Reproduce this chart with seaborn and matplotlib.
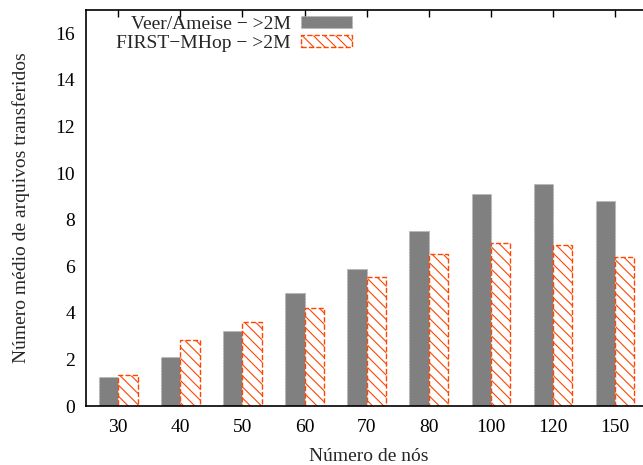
import matplotlib
matplotlib.use("Agg")
import matplotlib.pyplot as plt
import seaborn as sns
import pandas as pd
from matplotlib.patches import Patch

categories = ["30", "40", "50", "60", "70", "80", "100", "120", "150"]
veer = [1.26, 2.12, 3.2, 4.85, 5.86, 7.52, 9.12, 9.53, 8.80]
first = [1.34, 2.82, 3.62, 4.2, 5.52, 6.51, 7.0, 6.91, 6.38]
series_names = ["Veer/Ameise \u2212 >2M", "FIRST\u2212MHop \u2212 >2M"]
yticks = [0, 2, 4, 6, 8, 10, 12, 14, 16]

df = pd.DataFrame({
    "nos": categories * 2,
    "valor": veer + first,
    "serie": [series_names[0]] * len(categories) + [series_names[1]] * len(categories),
})

sns.set_theme(style="white")
plt.rcParams["font.family"] = ["Liberation Serif", "DejaVu Serif"]
plt.rcParams["hatch.linewidth"] = 0.8

gray = "#808080"
orange = "#ff4500"
fs = 14

fig = plt.figure(figsize=(6.43, 4.65), dpi=100)
ax = fig.add_axes([86 / 643, 1 - 406 / 465, (651 - 86) / 643, (406 - 10) / 465])

sns.barplot(data=df, x="nos", y="valor", hue="serie", order=categories,
            hue_order=series_names, palette=[gray, orange], width=0.62,
            saturation=1, legend=False, ax=ax)

n = len(categories)
for i, p in enumerate(ax.patches[:2 * n]):
    if i < n:
        p.set_facecolor(gray)
        p.set_edgecolor("#b0b0b0")
        p.set_linewidth(0.8)
        p.set_linestyle(":")
    else:
        p.set_facecolor("white")
        p.set_edgecolor(orange)
        p.set_hatch("\\\\\\")
        p.set_linewidth(1.0)
        p.set_linestyle("--")

ax.set_xlim(-0.52, 8.58)
ax.set_ylim(0, 17)
ax.set_yticks(yticks)
ax.set_yticklabels([str(t) for t in yticks])
ax.set_xlabel("Número de nós", fontsize=fs, labelpad=9)
ax.set_ylabel("Número médio de arquivos transferidos", fontsize=fs, labelpad=18)
ax.tick_params(axis="both", direction="in", length=5, width=1, labelsize=fs,
               top=True, right=True, colors="black", pad=8)
ax.tick_params(axis="x", pad=9)
for s in ax.spines.values():
    s.set_visible(True)
    s.set_color("black")
    s.set_linewidth(1.2)
ax.grid(False)

h1 = Patch(facecolor=gray, edgecolor="#b0b0b0", linestyle=":", linewidth=0.8)
h2 = Patch(facecolor="white", edgecolor=orange, hatch="\\\\\\", linestyle="--", linewidth=1.0)
leg = ax.legend([h1, h2], series_names, loc="upper right",
                bbox_to_anchor=((352 - 86) / 565, (406 - 16) / 396), markerfirst=False,
                frameon=False, fontsize=fs, handlelength=2.6, handleheight=0.57,
                handletextpad=0.55, labelspacing=0.12, borderaxespad=0, borderpad=0)
for t in leg.get_texts():
    t.set_ha("right")

fig.savefig("out.png", dpi=100)
